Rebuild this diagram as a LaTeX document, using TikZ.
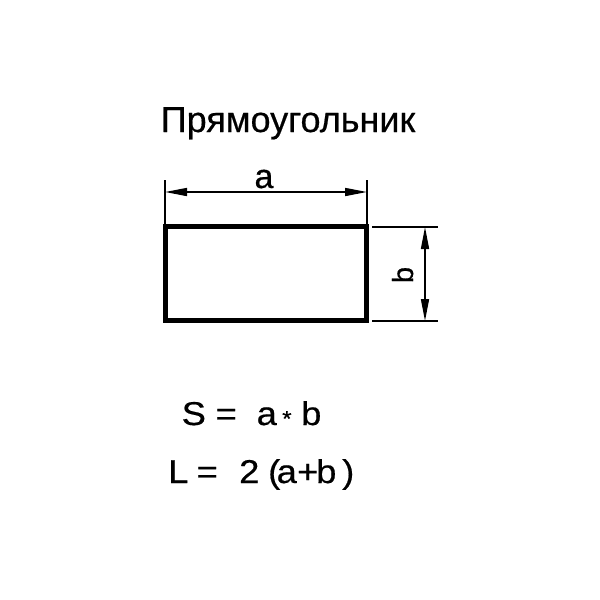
\documentclass[tikz,border=0pt]{standalone}
\usepackage{fontspec}
\usepackage{graphicx}
\setmainfont[FakeBold=0.5]{Liberation Sans}
\usetikzlibrary{arrows.meta}
\newcommand\glyphat[2]{\makebox[0pt][l]{\hspace{#1}\scalebox{1.1}[1]{#2}}}
\begin{document}
\begin{tikzpicture}[x=1pt,y=-1pt,
  thin line/.style={line width=1.6pt},
  dimline/.style={line width=1.6pt,{Triangle[length=22pt,width=8pt]}-{Triangle[length=22pt,width=8pt]}},
  lbl/.style={inner sep=0pt,font=\fontsize{34}{40}\selectfont},
  formula/.style={inner sep=0pt,anchor=base west,font=\fontsize{33}{38}\selectfont}]
\useasboundingbox[fill=white] (0,0) rectangle (600,600);
\node[inner sep=0pt,font=\fontsize{36}{42}\selectfont,anchor=base] (title) at (288,132) {Прямоугольник};
\draw[line width=5pt] (165.5,226.5) rectangle (366.5,320.5);
\coordinate (ea1) at (165,180); \coordinate (ea2) at (165,224);
\coordinate (eb1) at (367,180); \coordinate (eb2) at (367,224);
\draw[thin line] (ea1) -- (ea2);
\draw[thin line] (eb1) -- (eb2);
\coordinate (da1) at (165,192); \coordinate (da2) at (367,192);
\draw[dimline] (da1) -- (da2);
\node[lbl,anchor=base] (a) at (264,188) {a};
\coordinate (ec1) at (372,227); \coordinate (ec2) at (438,227);
\coordinate (ed1) at (372,321); \coordinate (ed2) at (438,321);
\draw[thin line] (ec1) -- (ec2);
\draw[thin line] (ed1) -- (ed2);
\coordinate (db1) at (425,227); \coordinate (db2) at (425,321);
\draw[dimline] (db1) -- (db2);
\node[lbl,rotate=90,anchor=base,font=\fontsize{29}{34}\selectfont] (b) at (413,275) {b};
\node[formula] (S) at (0,425) {\glyphat{181pt}{S}\glyphat{215pt}{=}\glyphat{256pt}{a}\glyphat{281.5pt}{\raisebox{-1.2pt}{\fontsize{22}{24}\selectfont *}}\glyphat{300.5pt}{b}};
\node[formula] (L) at (0,483) {\glyphat{167.5pt}{L}\glyphat{196pt}{=}\glyphat{238.5pt}{2}\glyphat{267.5pt}{(}\glyphat{276pt}{a}\glyphat{296.5pt}{+}\glyphat{315.5pt}{b}\glyphat{341.5pt}{)}};
\end{tikzpicture}
\end{document}
